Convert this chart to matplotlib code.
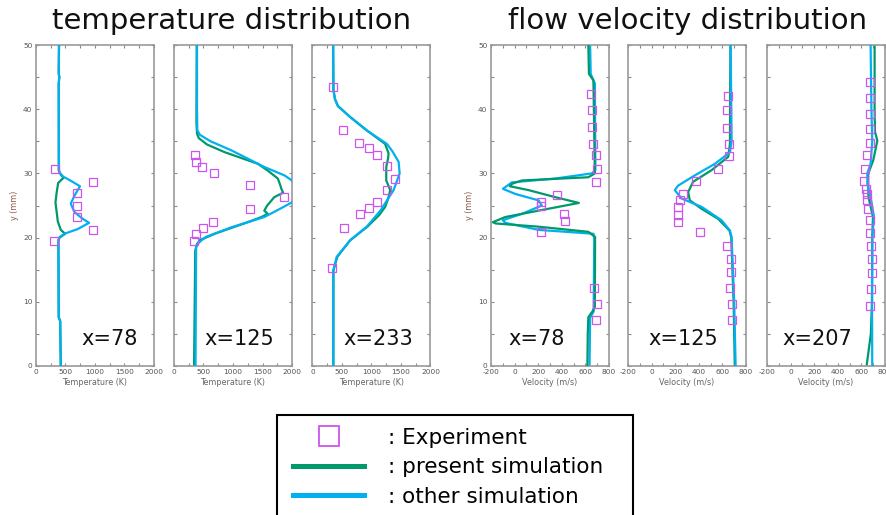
import matplotlib
matplotlib.use('Agg')
import matplotlib.pyplot as plt
from matplotlib.lines import Line2D
from matplotlib.patches import Rectangle
from matplotlib.ticker import MultipleLocator

plt.rcParams['axes.unicode_minus'] = False

GREEN = '#00996b'
CYAN = '#00b0f0'
PINK = '#cc55ee'

# ---- temperature, x=78
t78_pres_y = [0, 7.0, 7.6, 19.5, 20.0, 20.6, 21.2, 22.5, 24.0, 25.5, 27.0, 28.5, 29.3, 29.8, 30.5, 44.0, 45.0, 45.6, 50]
t78_pres_T = [420, 410, 385, 380, 400, 495, 420, 370, 350, 330, 350, 375, 465, 420, 385, 385, 395, 385, 390]
t78_oth_y = [0, 7.0, 7.6, 19.5, 20.0, 20.6, 21.3, 22.3, 23.0, 24.0, 25.3, 26.5, 28.0, 28.8, 29.5, 30.2, 44.0, 45.0, 45.6, 50]
t78_oth_T = [420, 410, 385, 380, 390, 480, 700, 900, 780, 650, 590, 650, 745, 600, 460, 390, 385, 395, 385, 390]
t78_exp_y = [30.7, 28.7, 27.0, 25.0, 23.2, 21.2, 19.5]
t78_exp_T = [320, 970, 700, 700, 700, 960, 310]

# ---- temperature, x=125
t125_pres_y = [0, 18.0, 19.0, 19.6, 20.6, 22.4, 23.2, 23.7, 24.2, 25.0, 26.3, 27.0, 27.6, 28.2, 29.2, 30.5, 31.5, 33.3, 34.5, 35.5, 36.2, 38.0, 50]
t125_pres_T = [340, 360, 390, 440, 690, 1250, 1480, 1590, 1530, 1580, 1700, 1850, 1820, 1800, 1760, 1580, 1420, 860, 560, 420, 390, 380, 385]
t125_oth_y = [0, 10, 18.5, 19.1, 19.6, 20.1, 21.6, 23.2, 24.5, 25.5, 27.2, 28.9, 29.7, 31.0, 33.6, 35.0, 36.0, 36.7, 40, 50]
t125_oth_T = [365, 370, 375, 410, 470, 540, 970, 1530, 1800, 2000, 2080, 2000, 1870, 1530, 970, 620, 440, 395, 390, 390]
t125_exp_y = [32.8, 31.8, 31.0, 30.1, 28.2, 26.3, 24.5, 22.5, 21.5, 20.5, 19.5]
t125_exp_T = [355, 370, 480, 680, 1280, 1860, 1280, 660, 495, 370, 345]

# ---- temperature, x=233
t233_pres_y = [0, 14.9, 17.0, 19.6, 21.7, 23.5, 24.8, 26.0, 27.4, 28.9, 31.0, 32.3, 33.1, 34.6, 36.7, 38.8, 40.5, 41.6, 43.0, 50]
t233_pres_T = [355, 355, 420, 640, 930, 1130, 1233, 1280, 1318, 1250, 1250, 1280, 1290, 1230, 920, 636, 430, 380, 355, 350]
t233_oth_y = [0, 14.9, 17.0, 19.6, 21.7, 24.2, 27.4, 30.0, 31.8, 33.5, 34.6, 36.7, 38.8, 40.5, 41.6, 43.0, 50]
t233_oth_T = [350, 352, 410, 640, 920, 1150, 1375, 1477, 1460, 1350, 1260, 920, 636, 430, 380, 355, 350]
t233_exp_y = [43.4, 36.8, 34.8, 33.9, 32.9, 31.1, 29.2, 27.4, 25.5, 24.6, 23.7, 21.5, 15.2]
t233_exp_T = [340, 525, 795, 950, 1090, 1260, 1400, 1260, 1090, 960, 805, 540, 335]

# ---- velocity, x=78
v78_pres_y = [0, 5.0, 7.6, 8.5, 9.2, 20.1, 20.9, 21.7, 22.2, 22.4, 23.2, 24.2, 25.4, 26.3, 27.4, 28.0, 28.4, 28.9, 29.4, 30.0, 44.5, 45.5, 50]
v78_pres_V = [617, 620, 625, 660, 680, 682, 625, 203, -160, -185, -80, 203, 545, 344, 118, -40, -20, 62, 625, 680, 668, 630, 625]
v78_oth_y = [0, 7.5, 8.5, 20.0, 20.6, 21.2, 22.3, 22.7, 23.7, 25.0, 25.8, 26.8, 27.6, 28.6, 29.2, 30.0, 30.5, 44.0, 45.5, 50]
v78_oth_V = [635, 640, 670, 675, 668, 203, -79, -100, 62, 231, 203, 6, -99, -23, 344, 654, 685, 680, 645, 640]
v78_exp_y = [42.3, 39.8, 37.3, 34.6, 32.9, 30.7, 28.7, 26.7, 25.5, 25.0, 23.6, 22.6, 20.8, 12.1, 9.6, 7.2]
v78_exp_V = [645, 654, 654, 668, 690, 696, 687, 358, 225, 225, 420, 428, 225, 676, 696, 687]

# ---- velocity, x=125
v125_pres_y = [0, 10, 20.0, 21.1, 22.9, 24.5, 25.8, 27.1, 28.7, 30.5, 32.6, 34.6, 50]
v125_pres_V = [705, 695, 675, 660, 565, 423, 324, 310, 352, 508, 650, 664, 668]
v125_oth_y = [0, 10, 20.1, 21.1, 22.7, 24.8, 26.1, 27.4, 28.1, 29.7, 31.5, 33.3, 35.0, 50]
v125_oth_V = [712, 700, 678, 664, 593, 423, 253, 197, 225, 367, 537, 664, 678, 670]
v125_exp_y = [42.1, 39.8, 37.1, 34.6, 32.7, 30.7, 28.8, 26.8, 25.8, 24.7, 23.5, 22.5, 20.8, 18.7, 16.7, 14.6, 12.2, 9.7, 7.2]
v125_exp_V = [644, 641, 641, 655, 658, 559, 375, 267, 239, 225, 225, 225, 412, 636, 670, 670, 664, 678, 678]

# ---- velocity, x=207
v207_pres_y = [0, 5, 10, 20, 23.2, 26.3, 27.9, 30.0, 32.0, 35.1, 36.5, 40, 50]
v207_pres_V = [644, 680, 690, 692, 698, 660, 658, 658, 700, 735, 715, 712, 712]
v207_oth_y = [0, 10, 20, 23.2, 26.3, 28.4, 30.0, 31.5, 35.0, 40, 50]
v207_oth_V = [692, 690, 692, 707, 678, 650, 650, 678, 692, 685, 678]
v207_exp_y = [44.2, 41.7, 39.3, 36.9, 34.7, 32.8, 30.7, 28.8, 27.6, 26.8, 25.8, 24.5, 22.8, 20.7, 18.7, 16.6, 14.5, 12.0, 9.3]
v207_exp_V = [673, 673, 673, 673, 673, 644, 630, 622, 636, 644, 650, 658, 673, 673, 684, 687, 687, 678, 673]

panels = [
    ('T', 'x=78', t78_pres_T, t78_pres_y, t78_oth_T, t78_oth_y, t78_exp_T, t78_exp_y),
    ('T', 'x=125', t125_pres_T, t125_pres_y, t125_oth_T, t125_oth_y, t125_exp_T, t125_exp_y),
    ('T', 'x=233', t233_pres_T, t233_pres_y, t233_oth_T, t233_oth_y, t233_exp_T, t233_exp_y),
    ('V', 'x=78', v78_pres_V, v78_pres_y, v78_oth_V, v78_oth_y, v78_exp_V, v78_exp_y),
    ('V', 'x=125', v125_pres_V, v125_pres_y, v125_oth_V, v125_oth_y, v125_exp_V, v125_exp_y),
    ('V', 'x=207', v207_pres_V, v207_pres_y, v207_oth_V, v207_oth_y, v207_exp_V, v207_exp_y),
]

W, H = 887, 515
fig = plt.figure(figsize=(W / 100, H / 100), dpi=100)

lefts = [36, 174, 312.5, 491, 628, 767]
ax_w = 118
ax_top, ax_bot = 45, 366
label_x = [0.86, 0.85, 0.85, 0.15, 0.17, 0.13]

for i, (kind, lab, px, py, ox, oy, ex, ey) in enumerate(panels):
    ax = fig.add_axes([lefts[i] / W, 1 - ax_bot / H, ax_w / W, (ax_bot - ax_top) / H])
    green_top = (i == 3)
    ax.plot(px, py, color=GREEN, lw=1.6, zorder=3 if green_top else 2)
    ax.plot(ox, oy, color=CYAN, lw=1.6, zorder=2 if green_top else 3)
    ax.plot(ex, ey, ls='none', marker='s', ms=5.5, mfc='none', mec=PINK, mew=0.9, zorder=4)

    ax.set_ylim(0, 50)
    ax.yaxis.set_major_locator(MultipleLocator(10))
    ax.yaxis.set_minor_locator(MultipleLocator(5))
    if kind == 'T':
        ax.set_xlim(0, 2000)
        ax.xaxis.set_major_locator(MultipleLocator(500))
        ax.xaxis.set_minor_locator(MultipleLocator(250))
        ax.set_xlabel('Temperature (K)', fontsize=5.8, color='#666666', labelpad=2)
    else:
        ax.set_xlim(-200, 800)
        ax.xaxis.set_major_locator(MultipleLocator(200))
        ax.xaxis.set_minor_locator(MultipleLocator(100))
        ax.set_xlabel('Velocity (m/s)', fontsize=5.8, color='#666666', labelpad=2)
    ax.tick_params(which='both', direction='in', top=True, right=True,
                   length=2.2, width=0.8, color='#888888',
                   labelsize=5.3, labelcolor='#555555', pad=2.5)
    if i in (0, 3):
        ax.set_ylabel('y (mm)', fontsize=5.8, color='#8a5a4a', labelpad=3)
    else:
        ax.set_yticklabels([])
    for s in ax.spines.values():
        s.set_color('#999999')
        s.set_linewidth(1.2)

    ha = 'right' if kind == 'T' else 'left'
    ax.text(label_x[i], 0.065, lab, transform=ax.transAxes, ha=ha, va='baseline',
            fontsize=15, color='#111111')

fig.text(232 / W, 1 - 21 / H, 'temperature distribution', ha='center', va='center',
         fontsize=21, color='#111111')
fig.text(688 / W, 1 - 21 / H, 'flow velocity distribution', ha='center', va='center',
         fontsize=21, color='#111111')

# legend
handles = [
    Line2D([], [], ls='none', marker='s', ms=14, mfc='none', mec=PINK, mew=1.3),
    Line2D([], [], color=GREEN, lw=3.6),
    Line2D([], [], color=CYAN, lw=3.6),
]
labels = [': Experiment', ': present simulation', ': other simulation']
fig.legend(handles, labels, loc='upper left', bbox_to_anchor=(293 / W, 1 - 428 / H),
           frameon=False, fontsize=15.5, handlelength=3.3, handletextpad=1.1,
           labelspacing=0.44, borderpad=0, borderaxespad=0)
fig.add_artist(Rectangle((277 / W, -0.05), 356 / W, 0.05 + (1 - 415 / H),
                         transform=fig.transFigure, fill=False, ec='black', lw=1.5))

fig.savefig('out.png', dpi=100)
